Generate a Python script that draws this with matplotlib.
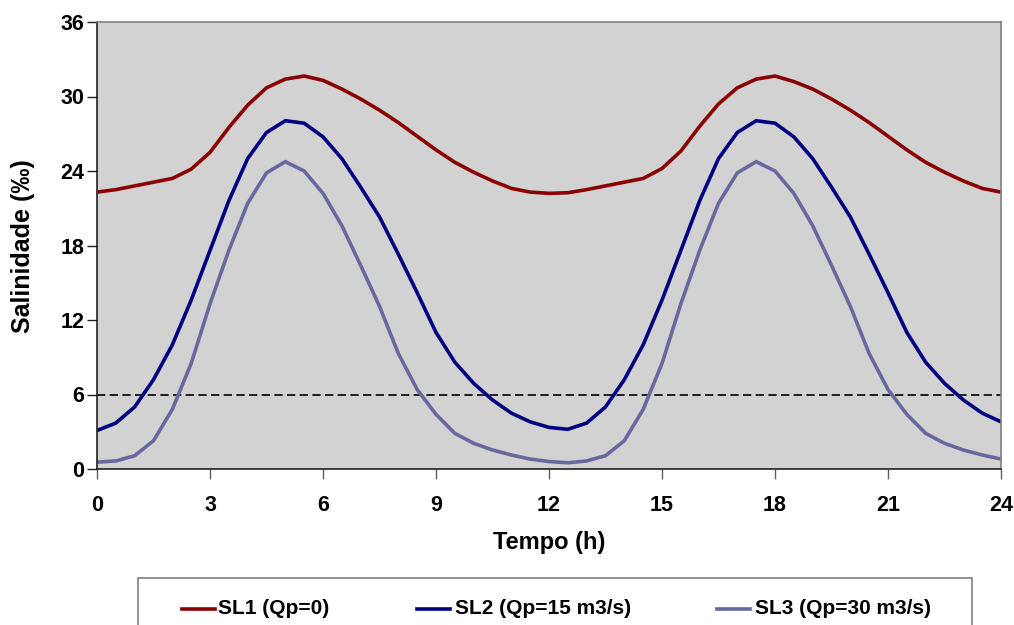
import matplotlib
matplotlib.use("Agg")
import matplotlib.pyplot as plt
from matplotlib.lines import Line2D
from matplotlib.patches import Rectangle

plt.rcParams['font.family'] = ['Liberation Sans', 'DejaVu Sans']
plt.rcParams['font.weight'] = 'bold'

# Time axis (hours)
tempo = [0, 0.5, 1, 1.5, 2, 2.5, 3, 3.5, 4, 4.5, 5, 5.5, 6, 6.5, 7, 7.5, 8, 8.5,
         9, 9.5, 10, 10.5, 11, 11.5, 12, 12.5, 13, 13.5, 14, 14.5, 15, 15.5, 16,
         16.5, 17, 17.5, 18, 18.5, 19, 19.5, 20, 20.5, 21, 21.5, 22, 22.5, 23,
         23.5, 24]

# Salinity (per mille) for each river discharge scenario
sl1 = [22.3, 22.5, 22.8, 23.1, 23.4, 24.15, 25.5, 27.5, 29.3, 30.7, 31.4, 31.65,
       31.3, 30.6, 29.8, 28.9, 27.9, 26.8, 25.7, 24.7, 23.9, 23.2, 22.6, 22.3,
       22.2, 22.25, 22.5, 22.8, 23.1, 23.4, 24.2, 25.6, 27.6, 29.4, 30.7, 31.4,
       31.65, 31.2, 30.6, 29.8, 28.9, 27.9, 26.8, 25.7, 24.7, 23.9, 23.2, 22.6,
       22.3]
sl2 = [3.1, 3.7, 5.0, 7.2, 10.0, 13.6, 17.6, 21.6, 25.0, 27.1, 28.05, 27.85,
       26.75, 25.0, 22.7, 20.3, 17.3, 14.2, 11.0, 8.6, 6.9, 5.56, 4.5, 3.8, 3.35,
       3.2, 3.7, 5.0, 7.2, 10.0, 13.6, 17.6, 21.6, 25.0, 27.1, 28.05, 27.85,
       26.75, 25.0, 22.7, 20.3, 17.3, 14.2, 11.0, 8.6, 6.9, 5.56, 4.5, 3.8]
sl3 = [0.55, 0.65, 1.07, 2.28, 4.8, 8.5, 13.3, 17.6, 21.4, 23.85, 24.75, 24.0,
       22.2, 19.6, 16.4, 13.1, 9.3, 6.4, 4.4, 2.87, 2.07, 1.53, 1.13, 0.8, 0.6,
       0.5, 0.65, 1.07, 2.28, 4.8, 8.5, 13.3, 17.6, 21.4, 23.85, 24.75, 24.0,
       22.2, 19.6, 16.4, 13.1, 9.3, 6.4, 4.4, 2.87, 2.07, 1.53, 1.13, 0.8]

# Reference salinity limit
limite_x = [0, 24]
limite_y = [6, 6]

labels = ["SL1 (Qp=0)", "SL2 (Qp=15 m3/s)", "SL3 (Qp=30 m3/s)"]
colors = ["#8b0000", "#000080", "#6868a0"]
xticks = [0, 3, 6, 9, 12, 15, 18, 21, 24]
yticks = [0, 6, 12, 18, 24, 30, 36]

W, H = 1014, 625
fig = plt.figure(figsize=(W / 100, H / 100), dpi=100)
fig.patch.set_facecolor("white")

def fx(px):
    return px / W

def fy(py):
    return 1 - py / H

ax = fig.add_axes([fx(97), fy(469), fx(1001) - fx(97), fy(22) - fy(469)])
ax.set_facecolor("#d2d2d2")

ax.plot(limite_x, limite_y, color="black", lw=1.2, dashes=(5, 2.6))
for y, c in zip([sl1, sl2, sl3], colors):
    ax.plot(tempo, y, color=c, lw=2.6, solid_joinstyle="miter")

ax.set_xlim(0, 24)
ax.set_ylim(0, 36)
ax.set_xticks(xticks)
ax.set_yticks(yticks)
ax.tick_params(axis="both", which="major", direction="out", length=7,
               width=1, labelsize=15.5, colors="black")
ax.tick_params(axis="x", pad=12, color="#606060")
ax.tick_params(axis="y", pad=2, color="#202020")
for lab in ax.get_xticklabels() + ax.get_yticklabels():
    lab.set_fontweight("bold")

for side in ["top", "right"]:
    ax.spines[side].set_color("#808080")
    ax.spines[side].set_linewidth(1.2)
for side in ["left", "bottom"]:
    ax.spines[side].set_color("#202020")
    ax.spines[side].set_linewidth(1.2)

fig.text(fx(549), fy(543), "Tempo (h)", fontsize=17, fontweight="bold",
         ha="center", va="center")
fig.text(fx(23), fy(246), "Salinidade (‰)", fontsize=18, fontweight="bold",
         ha="center", va="center", rotation=90)

# Legend box (runs off the bottom edge)
fig.add_artist(Rectangle((fx(138), fy(640)), fx(972) - fx(138), fy(578) - fy(640),
                         transform=fig.transFigure, facecolor="white",
                         edgecolor="#808080", lw=1.2, clip_on=False))
entries = [(182, 215, 218), (417, 450, 455), (717, 750, 755)]
for (x0, x1, xt), lab, c in zip(entries, labels, colors):
    fig.add_artist(Line2D([fx(x0), fx(x1)], [fy(609), fy(609)],
                          transform=fig.transFigure, color=c, lw=2.6))
    fig.text(fx(xt), fy(609), lab, fontsize=15, fontweight="bold",
             ha="left", va="center")

fig.savefig("out.png", dpi=100)
